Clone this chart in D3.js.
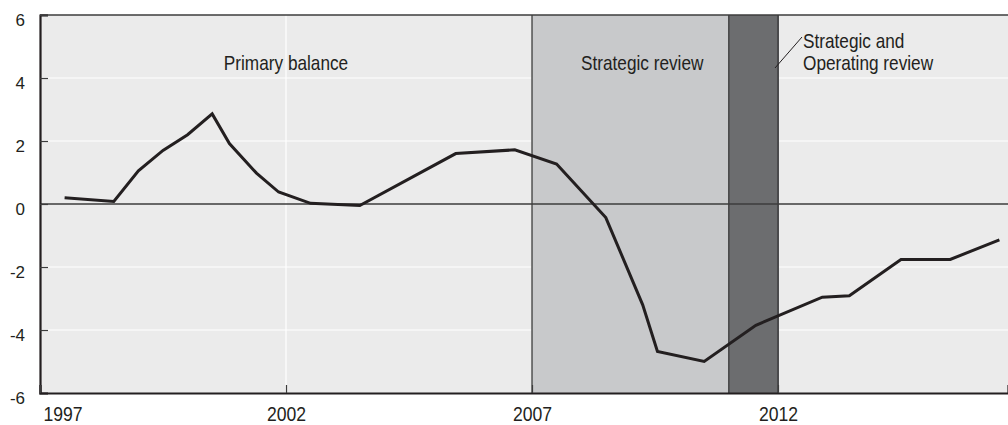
<!DOCTYPE html>
<html>
<head>
<meta charset="utf-8">
<script src="https://cdn.jsdelivr.net/npm/d3@7"></script>
<style>
  html, body { margin: 0; padding: 0; background: #ffffff; }
  svg { display: block; }
  .lbl { font-family: "Liberation Sans", Arial, sans-serif; fill: #231f20; }
</style>
</head>
<body>
<svg id="chart" width="1008" height="425"></svg>
<script>
// ---- data ----
const periods = [1997.5, 1998.5, 1999.0, 1999.5, 2000.0, 2000.5, 2000.85, 2001.4, 2001.85, 2002.5, 2003.5,
                 2005.45, 2006.65, 2007.5, 2008.5, 2009.25, 2009.55, 2010.5, 2011.55, 2012.9, 2013.45,
                 2014.5, 2015.5, 2016.5];
const balance = [0.2, 0.08, 1.05, 1.7, 2.2, 2.86, 1.92, 0.98, 0.38, 0.02, -0.05,
                 1.6, 1.72, 1.27, -0.43, -3.2, -4.68, -5.0, -3.85, -2.96, -2.91,
                 -1.76, -1.76, -1.14];
const xTicks = [1997, 2002, 2007, 2012];
const yTicks = [-6, -4, -2, 0, 2, 4, 6];
const bandNames = ["Strategic review", "Strategic and Operating review"];
const bandStart = [2007, 2011];
const bandEnd = [2011, 2012];
const seriesLabel = "Primary balance";

// ---- layout ----
const svg = d3.select("#chart");
const mLeft = 40, mRight = 1008, mTop = 15, mBottom = 393;
const NARROW = 0.82;
const x = d3.scaleLinear().domain([1997, 2016.675]).range([mLeft, mRight]);
const y = d3.scaleLinear().domain([-6, 6]).range([mBottom, mTop]);

// background
svg.append("rect").attr("x", mLeft).attr("y", mTop)
  .attr("width", mRight - mLeft).attr("height", mBottom - mTop).attr("fill", "#ebebeb");

// gridlines
svg.append("g").selectAll("line").data(yTicks.filter(d => d !== 0 && d !== 6 && d !== -6)).join("line")
  .attr("x1", mLeft).attr("x2", mRight).attr("y1", d => y(d)).attr("y2", d => y(d))
  .attr("stroke", "#ffffff").attr("stroke-width", 1.2);
svg.append("g").selectAll("line").data(xTicks.slice(1)).join("line")
  .attr("x1", d => x(d)).attr("x2", d => x(d)).attr("y1", mTop).attr("y2", mBottom)
  .attr("stroke", "#ffffff").attr("stroke-width", 1.2);

// bands
const bandFill = ["#c8c9cb", "#6c6d6f"];
svg.append("g").selectAll("rect").data(bandStart).join("rect")
  .attr("x", (d) => x(d)).attr("y", mTop)
  .attr("width", (d, i) => x(bandEnd[i]) - x(d)).attr("height", mBottom - mTop)
  .attr("fill", (d, i) => bandFill[i]);
const edges = [bandStart[0], bandStart[1], bandEnd[1]];
svg.append("g").selectAll("line").data(edges).join("line")
  .attr("x1", d => x(d)).attr("x2", d => x(d)).attr("y1", mTop).attr("y2", mBottom)
  .attr("stroke", (d, i) => i === 2 ? "#4a4a4c" : "#3a3a3a")
  .attr("stroke-width", (d, i) => i === 2 ? 2 : 1.3);

// zero line & top line
svg.append("line").attr("x1", mLeft).attr("x2", mRight).attr("y1", y(0)).attr("y2", y(0))
  .attr("stroke", "#3c3c3c").attr("stroke-width", 1.5);
svg.append("line").attr("x1", mLeft).attr("x2", mRight).attr("y1", y(6)).attr("y2", y(6))
  .attr("stroke", "#3c3c3c").attr("stroke-width", 1.5);

// axes
const yAxis = svg.append("g").attr("transform", `translate(${mLeft},0)`)
  .call(d3.axisLeft(y).tickValues(yTicks).tickSize(-8).tickPadding(15).tickFormat(d3.format("d")));
yAxis.select(".domain").attr("stroke", "#231f20").attr("stroke-width", 2.2);
yAxis.selectAll(".tick line").attr("stroke", "#3c3c3c").attr("stroke-width", 1.2);
yAxis.selectAll(".tick text").attr("font-family", "'Liberation Sans', Arial, sans-serif")
  .attr("font-size", 17).attr("fill", "#231f20").attr("dy", "0.62em").attr("dx", 0)
  .attr("x", -15).text(d => d < 0 ? "-" + Math.abs(d) : d);

const xAxis = svg.append("g").attr("transform", `translate(0,${mBottom})`)
  .call(d3.axisBottom(x).tickValues(xTicks).tickSize(-8).tickPadding(16).tickFormat(d3.format("d")));
xAxis.select(".domain").attr("stroke", "#231f20").attr("stroke-width", 2.2);
xAxis.selectAll(".tick line").attr("stroke", "#3c3c3c").attr("stroke-width", 1.2);
xAxis.selectAll(".tick text").attr("class", "lbl").attr("font-size", 20).attr("fill", "#231f20")
  .attr("y", 0).attr("dy", 0)
  .attr("text-anchor", (d, i) => i === 0 ? "start" : "middle")
  .attr("x", 0)
  .attr("transform", (d, i) => `translate(${i === 0 ? 3 : 0},27.5) scale(0.88,1)`);

// data line
const line = d3.line().x((d, i) => x(periods[i])).y(d => y(d));
svg.append("path").datum(balance).attr("d", line)
  .attr("fill", "none").attr("stroke", "#231f20").attr("stroke-width", 3)
  .attr("stroke-linejoin", "miter");

// labels
function narrowText(px, py, anchor, txt) {
  return svg.append("text").attr("class", "lbl").attr("font-size", 21)
    .attr("text-anchor", anchor)
    .attr("transform", `translate(${px},${py}) scale(${NARROW},1)`).text(txt);
}
narrowText(x(2002), 70, "middle", seriesLabel);
narrowText(x(2009.24), 70, "middle", bandNames[0]);
const words = bandNames[1].split(" ");
narrowText(803, 48, "start", words.slice(0, 2).join(" "));
narrowText(803, 70, "start", words.slice(2).join(" "));
svg.append("line").attr("x1", x(2012) - 3).attr("y1", 68).attr("x2", 802).attr("y2", 37)
  .attr("stroke", "#231f20").attr("stroke-width", 1);
</script>
</body>
</html>
